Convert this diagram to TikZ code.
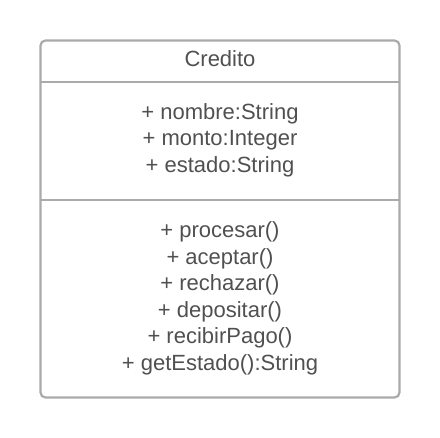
\documentclass[tikz,border=0pt]{standalone}
\usepackage{fontspec}
\setmainfont{Liberation Sans}
\definecolor{bordergray}{RGB}{170,170,170}
\definecolor{textgray}{RGB}{80,80,80}
\tikzset{
  classbox/.style={draw=bordergray, line width=2.2pt, rounded corners=5pt},
  divider/.style={draw=bordergray, line width=2.2pt},
  member/.style={text=textgray, font=\fontsize{22}{26}\selectfont, inner sep=0pt, anchor=base}
}
\begin{document}
\begin{tikzpicture}[x=1pt,y=-1pt]
\useasboundingbox (0,0) rectangle (440,438);
\draw[classbox] (40.5,40.5) rectangle (399.5,397.5);
\coordinate (d1l) at (40.5,82);
\coordinate (d1r) at (399.5,82);
\coordinate (d2l) at (40.5,200);
\coordinate (d2r) at (399.5,200);
\draw[divider] (d1l) -- (d1r);
\draw[divider] (d2l) -- (d2r);
\node[member] (title) at (220,66.5) {Credito};
\node[member] (a1) at (220,119.5) {+ nombre:String};
\node[member] (a2) at (220,146) {+ monto:Integer};
\node[member] (a3) at (220,172.5) {+ estado:String};
\node[member] (m1) at (220,238) {+ procesar()};
\node[member] (m2) at (220,264.5) {+ aceptar()};
\node[member] (m3) at (220,291) {+ rechazar()};
\node[member] (m4) at (220,317.5) {+ depositar()};
\node[member] (m5) at (220,344) {+ recibirPago()};
\node[member] (m6) at (220,370.5) {+ getEstado():String};
\end{tikzpicture}
\end{document}
